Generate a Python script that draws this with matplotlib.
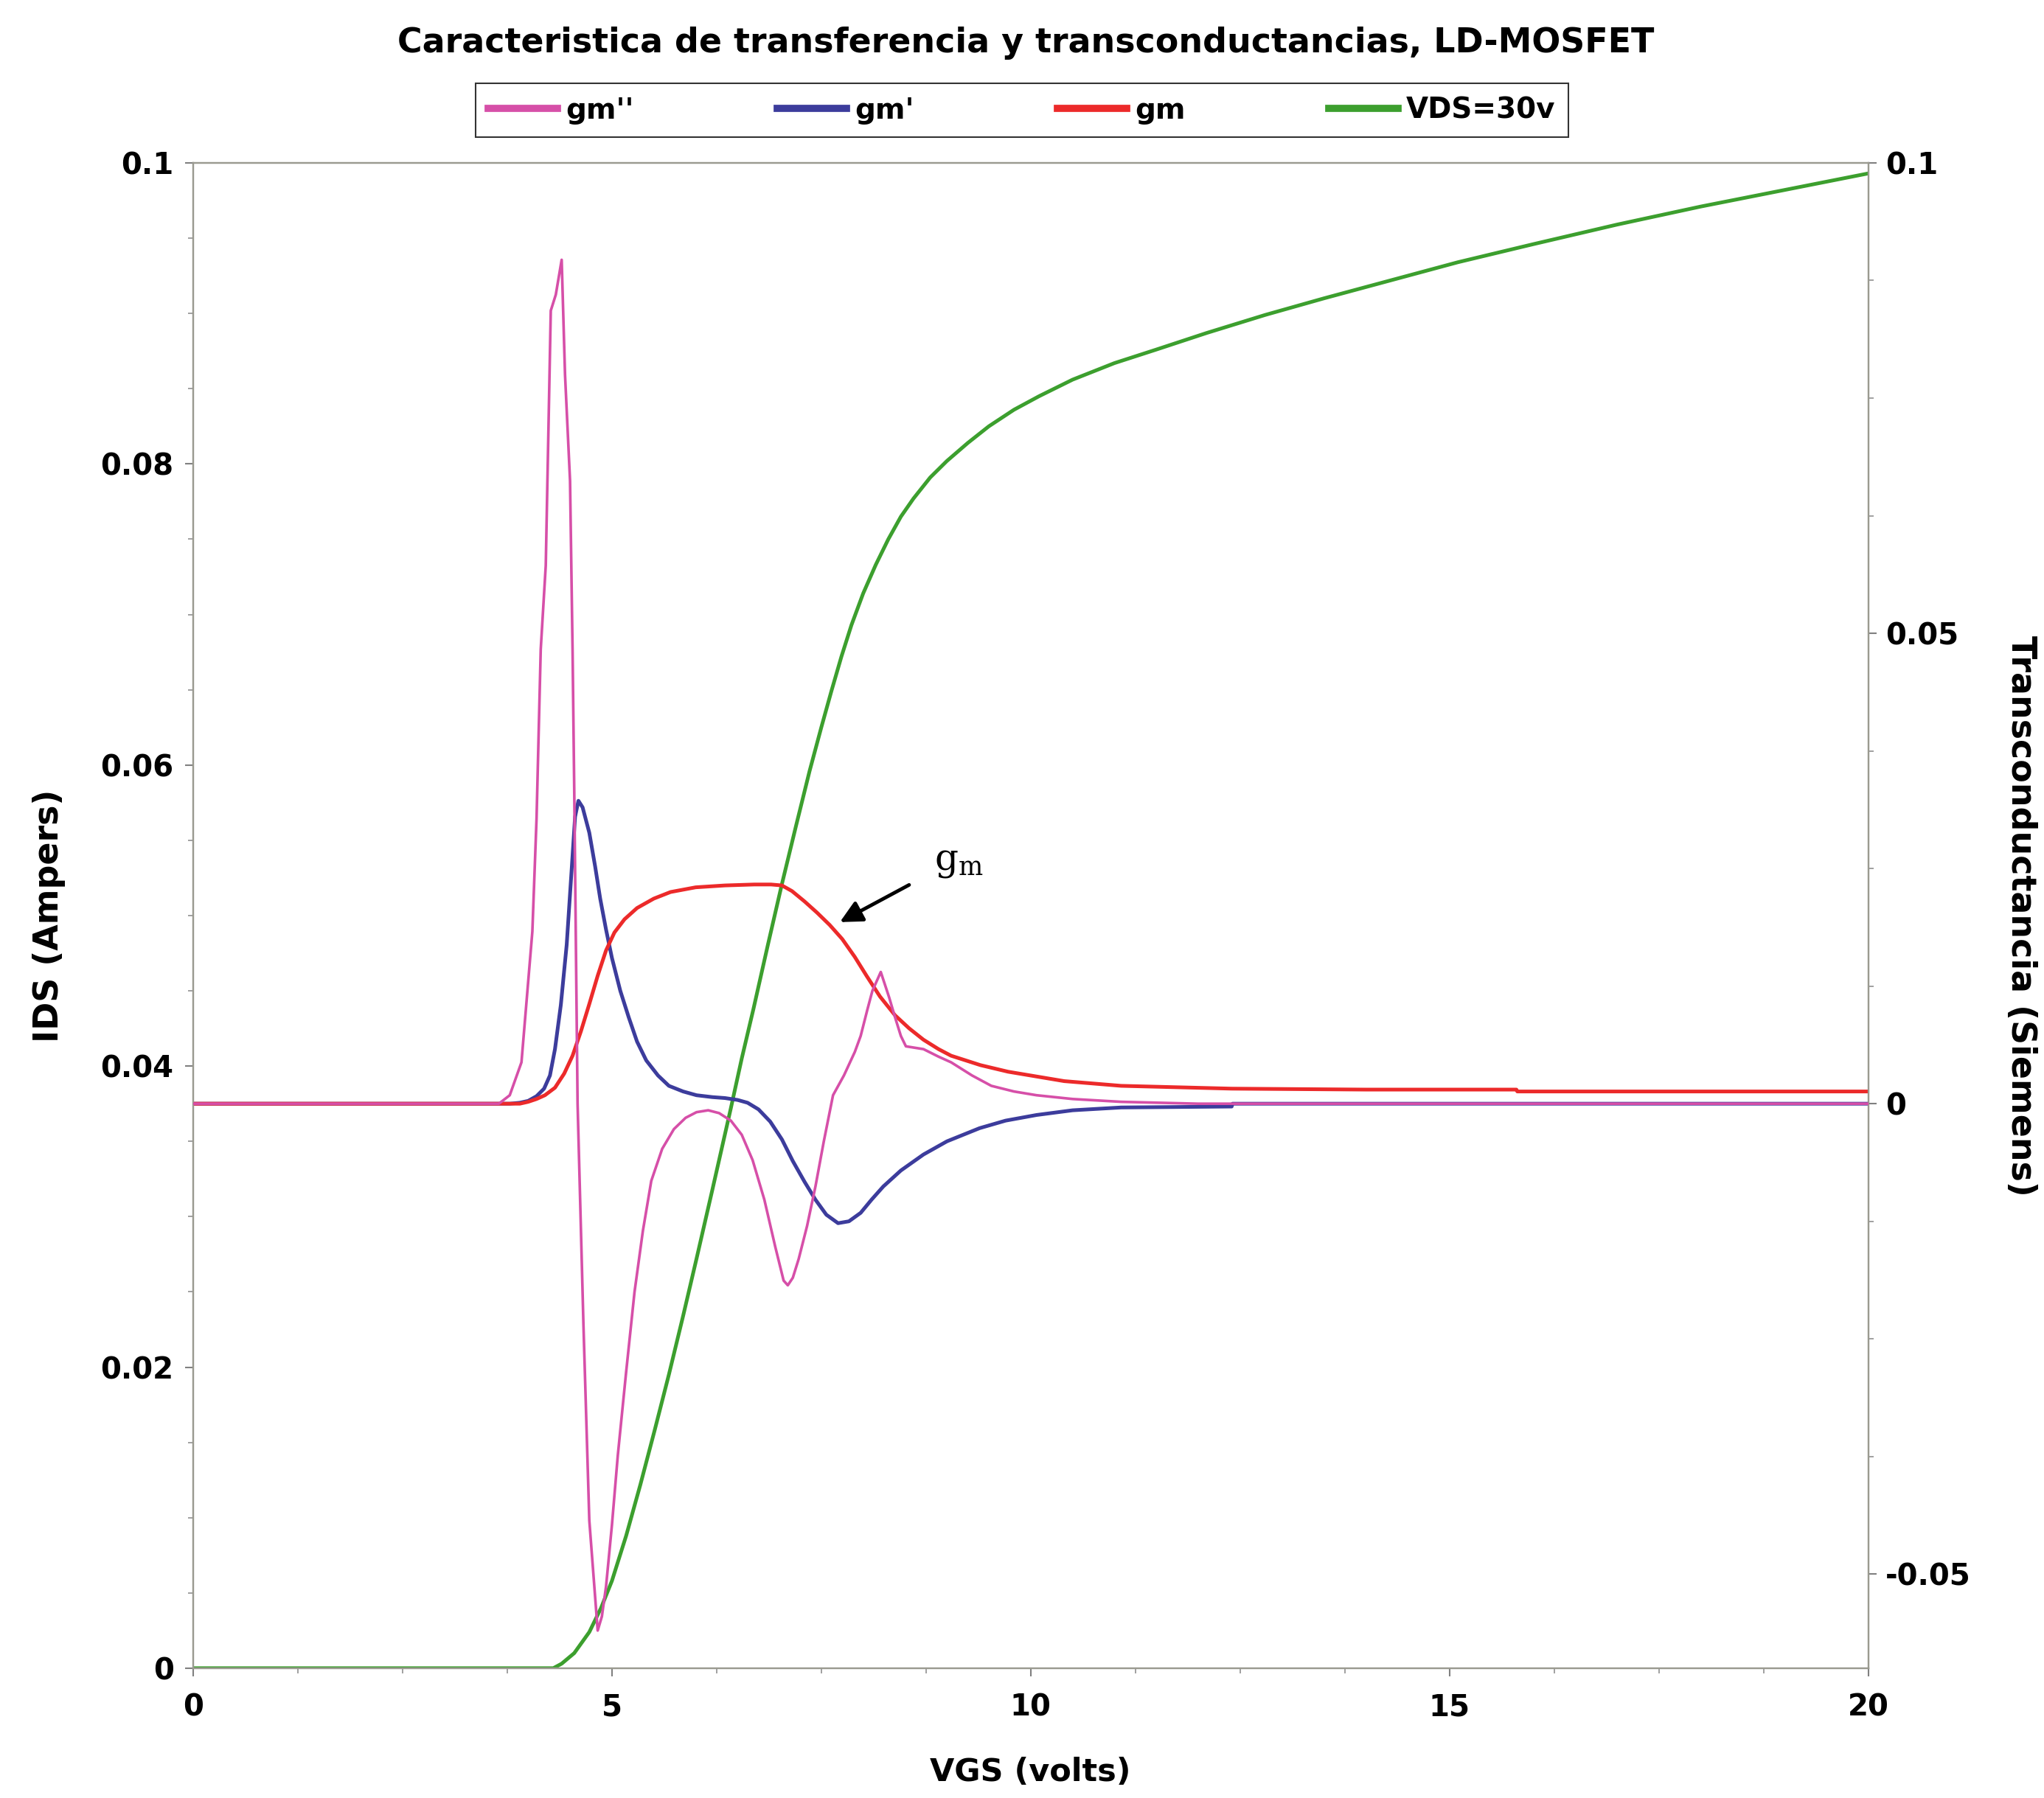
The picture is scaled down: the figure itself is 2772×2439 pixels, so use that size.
import matplotlib.pyplot as plt
from matplotlib.ticker import MultipleLocator, FixedLocator, FixedFormatter

plt.rcParams['font.family'] = 'DejaVu Sans'
plt.rcParams['font.weight'] = 'bold'
plt.rcParams['mathtext.default'] = 'regular'

# --- datos ---
# IDS (Ampers) con VDS=30v, eje izquierdo
vgs_ids = [0, 4.3, 4.4, 4.55, 4.73, 4.87, 5.0, 5.17, 5.34, 5.51, 5.68, 5.85, 6.01, 6.2,
           6.42, 6.55, 6.69, 6.86, 7.03, 7.2, 7.36, 7.5, 7.62, 7.74, 7.86, 8.0, 8.15,
           8.3, 8.45, 8.6, 8.8, 9.0, 9.25, 9.5, 9.8, 10.1, 10.5, 11.0, 11.5, 12.1,
           12.8, 13.5, 14.3, 15.1, 16.0, 17.0, 18.0, 19.0, 20]
ids = [0, 0, 0.0003, 0.0010, 0.0024, 0.0040, 0.0058, 0.0088, 0.0122, 0.0158, 0.0195,
       0.0234, 0.0272, 0.0318, 0.0372, 0.0405, 0.0438, 0.0480, 0.0521, 0.0560,
       0.0596, 0.0625, 0.0649, 0.0672, 0.0693, 0.0714, 0.0733, 0.0750, 0.0765,
       0.0777, 0.0791, 0.0802, 0.0814, 0.0825, 0.0836, 0.0845, 0.0856, 0.0867,
       0.0876, 0.0887, 0.0899, 0.0910, 0.0922, 0.0934, 0.0946, 0.0959, 0.0971,
       0.0982, 0.0993]

# gm (Siemens), eje derecho
vgs_gm = [0, 3.9, 4.0, 4.1, 4.2, 4.32, 4.43, 4.53, 4.63, 4.73, 4.83, 4.93, 5.03, 5.15,
          5.3, 5.5, 5.7, 6.0, 6.35, 6.7, 6.9, 7.03, 7.15, 7.3, 7.45, 7.6, 7.75, 7.9,
          8.04, 8.2, 8.38, 8.55, 8.72, 8.9, 9.05, 9.4, 9.73, 10.4, 11.08, 12.4, 14.0,
          15.8, 15.81, 20]
gm = [0, 0, 0.0002, 0.0005, 0.0009, 0.0017, 0.0032, 0.0051, 0.0077, 0.0106, 0.0136,
      0.0163, 0.0182, 0.0196, 0.0208, 0.0218, 0.0225, 0.0230, 0.0232, 0.0233,
      0.0233, 0.0232, 0.0226, 0.0215, 0.0203, 0.0190, 0.0175, 0.0156, 0.0136,
      0.0114, 0.0094, 0.0080, 0.0068, 0.0058, 0.0051, 0.0041, 0.0034, 0.0024,
      0.0019, 0.0016, 0.0015, 0.0015, 0.0013, 0.0013]

# gm'
vgs_gm1 = [0, 3.78, 3.9, 4.0, 4.1, 4.19, 4.26, 4.32, 4.39, 4.46, 4.52, 4.56, 4.6, 4.65,
           4.73, 4.8, 4.86, 4.93, 5.0, 5.1, 5.2, 5.3, 5.41, 5.55, 5.68, 5.85, 6.01,
           6.2, 6.35, 6.5, 6.62, 6.75, 6.89, 7.03, 7.16, 7.3, 7.43, 7.56, 7.7, 7.83,
           7.97, 8.1, 8.24, 8.45, 8.72, 9.0, 9.39, 9.7, 10.07, 10.5, 11.08, 12.4,
           12.41, 20]
gm1 = [0, 0, 0.0001, 0.0003, 0.0008, 0.0016, 0.0030, 0.0058, 0.0105, 0.0169, 0.0250,
       0.0305, 0.0322, 0.0315, 0.0288, 0.0252, 0.0218, 0.0185, 0.0155, 0.0120,
       0.0092, 0.0066, 0.0046, 0.0030, 0.0019, 0.0013, 0.0009, 0.0007, 0.0006,
       0.0004, 0.0001, -0.0006, -0.0019, -0.0038, -0.0061, -0.0083, -0.0102,
       -0.0118, -0.0127, -0.0125, -0.0116, -0.0102, -0.0088, -0.0071, -0.0054,
       -0.0040, -0.0026, -0.0018, -0.0012, -0.0007, -0.0004, -0.0003, 0, 0]

# gm''
vgs_gm2 = [0, 3.65, 3.78, 3.92, 4.05, 4.10, 4.15, 4.21, 4.27, 4.33, 4.40, 4.44, 4.50,
           4.53, 4.55, 4.59, 4.66, 4.73, 4.83, 4.88, 4.93, 5.0, 5.07, 5.17, 5.27,
           5.37, 5.47, 5.6, 5.74, 5.88, 6.01, 6.15, 6.28, 6.42, 6.55, 6.68, 6.82,
           6.95, 7.05, 7.1, 7.16, 7.23, 7.33, 7.43, 7.53, 7.64, 7.77, 7.9, 7.97,
           8.05, 8.11, 8.21, 8.31, 8.38, 8.45, 8.51, 8.72, 8.9, 9.05, 9.3, 9.53,
           9.8, 10.07, 10.5, 11.08, 12.0, 20]
gm2 = [0, 0, 0.0009, 0.0044, 0.0183, 0.0303, 0.0483, 0.0572, 0.0843, 0.0860, 0.0897,
       0.0775, 0.0662, 0.0483, 0.0334, 0.0, -0.0235, -0.0443, -0.0560, -0.0545,
       -0.0513, -0.0448, -0.0374, -0.0285, -0.0200, -0.0135, -0.0082, -0.0048,
       -0.0027, -0.0015, -0.0009, -0.0007, -0.0010, -0.0018, -0.0033, -0.0060,
       -0.0102, -0.0152, -0.0188, -0.0193, -0.0185, -0.0165, -0.0130, -0.0088,
       -0.0040, 0.0009, 0.0030, 0.0055, 0.0072, 0.0100, 0.0120, 0.0140, 0.0113,
       0.0092, 0.0072, 0.0061, 0.0058, 0.0050, 0.0044, 0.0030, 0.0019, 0.0013,
       0.0009, 0.0005, 0.0002, 0, 0]

x_ticks = [0, 5, 10, 15, 20]
x_labels = ['0', '5', '10', '15', '20']
left_ticks = [0, 0.02, 0.04, 0.06, 0.08, 0.1]
left_labels = ['0', '0.02', '0.04', '0.06', '0.08', '0.1']
right_ticks = [-0.05, 0, 0.05, 0.1]
right_labels = ['-0.05', '0', '0.05', '0.1']

# --- figura ---
fig = plt.figure(figsize=(27.72, 24.39), dpi=100)
ax = fig.add_axes([0.0945, 0.0722, 0.8195, 0.8372])
ax2 = ax.twinx()

l_vds, = ax.plot(vgs_ids, ids, color='#3c9f2e', lw=3.6, label='VDS=30v')
l_gm2, = ax2.plot(vgs_gm2, gm2, color='#d64fa8', lw=2.6, label="gm''")
l_gm1, = ax2.plot(vgs_gm1, gm1, color='#3c3c9c', lw=3.6, label="gm'")
l_gm, = ax2.plot(vgs_gm, gm, color='#ec2a2a', lw=3.6, label='gm')
l_gm2.set_zorder(3)

ax.set_xlim(0, 20)
ax.set_ylim(0, 0.1)
ax2.set_ylim(-0.06, 0.1)

ax.xaxis.set_major_locator(FixedLocator(x_ticks))
ax.xaxis.set_major_formatter(FixedFormatter(x_labels))
ax.xaxis.set_minor_locator(MultipleLocator(1.25))
ax.yaxis.set_major_locator(FixedLocator(left_ticks))
ax.yaxis.set_major_formatter(FixedFormatter(left_labels))
ax.yaxis.set_minor_locator(MultipleLocator(0.005))
ax2.yaxis.set_major_locator(FixedLocator(right_ticks))
ax2.yaxis.set_major_formatter(FixedFormatter(right_labels))
ax2.yaxis.set_minor_locator(MultipleLocator(0.0125))

for a in (ax, ax2):
    for sp in a.spines.values():
        sp.set_color('#9a9a90')
        sp.set_linewidth(1.6)
    a.tick_params(which='major', direction='out', length=8, width=1.5,
                  color='#808080', labelsize=29)
    a.tick_params(which='minor', direction='out', length=5, width=1.2,
                  color='#909090')
ax.tick_params(axis='y', pad=11)
ax.tick_params(axis='x', pad=16)
ax2.tick_params(axis='y', pad=9)

ax.set_xlabel('VGS (volts)', fontsize=31, weight='bold')
ax.xaxis.set_label_coords(0.4996, -0.059)
ax.set_ylabel('IDS (Ampers)', fontsize=33, weight='bold')
ax.yaxis.set_label_coords(-0.076, 0.5)
ax2.set_ylabel('Transconductancia (Siemens)', fontsize=33, weight='bold',
               rotation=270, va='bottom')
ax2.yaxis.set_label_coords(1.081, 0.5)

# flecha y etiqueta gm
ax.annotate('', xy=(7.7, 0.0495), xytext=(8.57, 0.0521),
            arrowprops=dict(arrowstyle='-|>', color='black', lw=3.5, mutation_scale=45))
ax.text(9.14, 0.0536, 'g$_m$', fontsize=36, family='DejaVu Serif',
        weight='normal', ha='center', va='center')

fig.text(0.502, 0.976, 'Caracteristica de transferencia y transconductancias, LD-MOSFET',
         ha='center', va='center', fontsize=33, weight='bold')

leg = fig.legend([l_gm2, l_gm1, l_gm, l_vds], ["gm''", "gm'", 'gm', 'VDS=30v'],
                 loc='center', bbox_to_anchor=(0.5, 0.9387), ncol=4,
                 fontsize=28, frameon=True, fancybox=False, edgecolor='black',
                 handlelength=2.4, columnspacing=5.0, borderpad=0.45, handletextpad=0.3)
leg.get_frame().set_linewidth(1.5)
for h in leg.get_lines():
    h.set_linewidth(7)

fig.savefig('out.png', dpi=100, facecolor='white')
